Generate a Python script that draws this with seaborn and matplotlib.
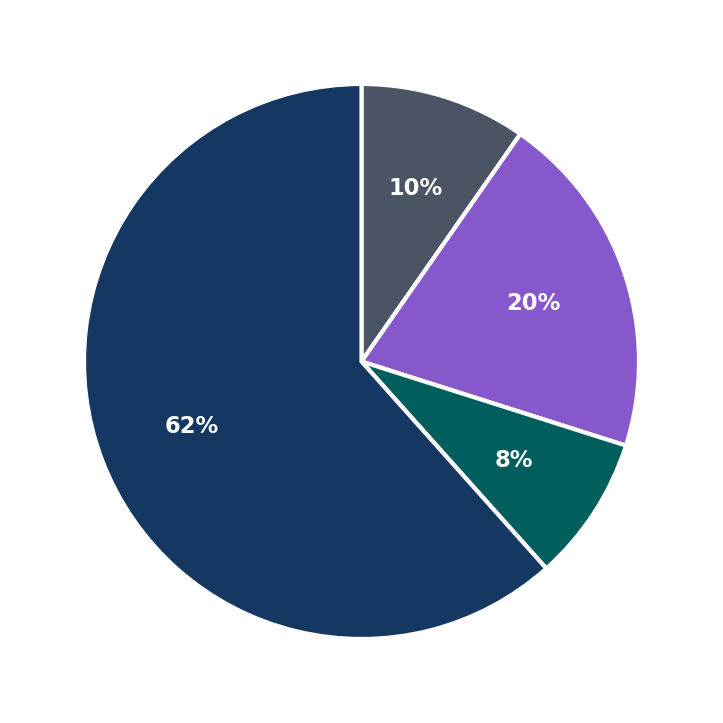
import matplotlib
matplotlib.use("Agg")
import matplotlib.pyplot as plt
import seaborn as sns

categories = ["A", "B", "C", "D"]
values = [9.7, 20.2, 8.5, 61.6]
pct_labels = ["10%", "20%", "8%", "62%"]
colors = ["#4a5462", "#8757cc", "#005f5c", "#143862"]

sns.set_theme(style="white")
plt.rcParams['font.family'] = ['DejaVu Sans']

fig = plt.figure(figsize=(7.23, 7.23), dpi=100)
ax = fig.add_axes([0, 0, 1, 1])
lab_iter = iter(pct_labels)
wedges, texts, autotexts = ax.pie(
    values, colors=colors, startangle=90, counterclock=False,
    autopct=lambda p: next(lab_iter), pctdistance=0.655,
    wedgeprops=dict(edgecolor="white", linewidth=3),
    textprops=dict(color="white", fontsize=16.3, fontweight="bold"),
)
lim = 361.5 / 277.5
ax.set_xlim(-lim, lim)
ax.set_ylim(-lim, lim)
ax.set_aspect("equal")
ax.axis("off")
fig.savefig("out.png", dpi=100, facecolor="white")
